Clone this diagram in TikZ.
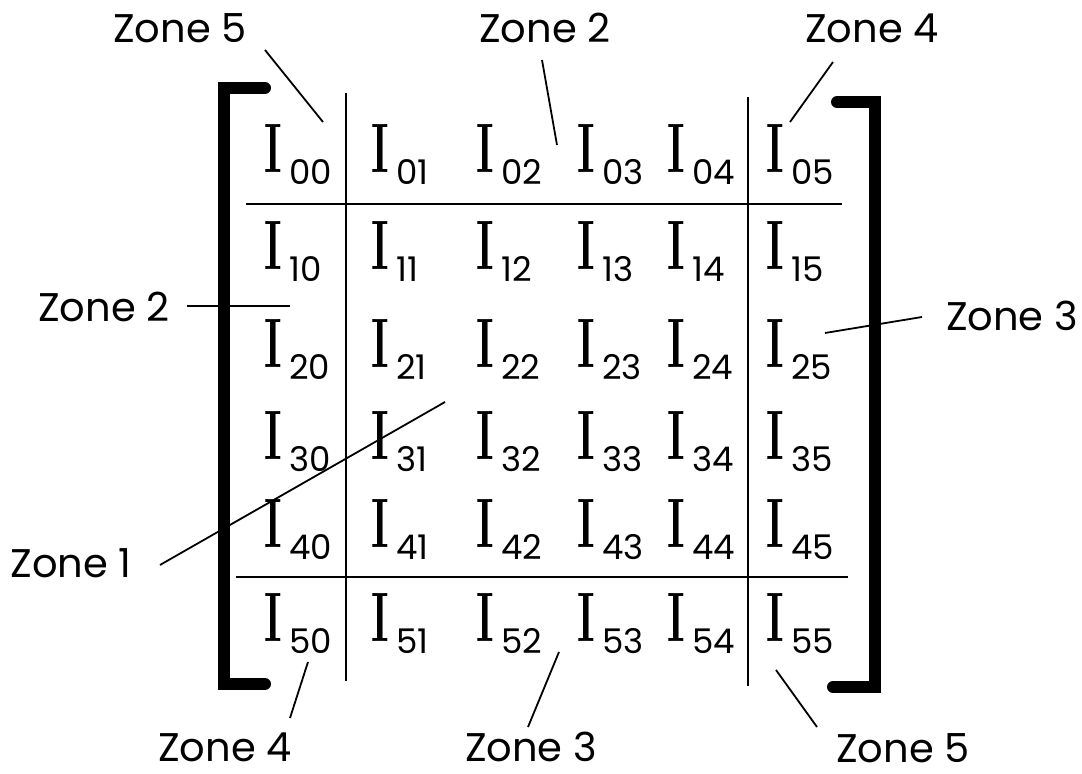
\documentclass[tikz,border=0pt]{standalone}
\usepackage{fontspec}
\newfontfamily\zonefont{Poppins}
\usetikzlibrary{positioning}
\tikzset{
  zone/.style={font=\zonefont\fontsize{20}{24}\selectfont, inner sep=0pt},
  ient/.style={font=\bfseries\fontsize{35}{40}\selectfont, inner sep=0pt},
  isub/.style={font=\zonefont\fontsize{17}{19}\selectfont, inner sep=0pt, anchor=west},
  bracket/.style={line width=6pt, line cap=round, line join=miter},
  rule/.style={line width=1.1pt},
  lead/.style={line width=0.9pt},
}

\begin{document}
\begin{tikzpicture}[x=0.5pt, y=-0.5pt]
    \useasboundingbox (0,0) rectangle (1082,774);

    % Matrix entries I_rc
    \foreach \r/\y in {0/148,1/245,2/343,3/435,4/523,5/617} {
      \foreach \c/\x in {0/273,1/380,2/485,3/586,4/676,5/775} {
        \node[ient] (e\r\c) at (\x,\y) {\scalebox{0.6}[1]{I}};
        \node[isub] (s\r\c) at (\x+16,\y+24) {\r\c};
      }
    }

    % Brackets
    \draw[bracket] (265,88) -- (224,88) -- (224,684) -- (265,684);
    \draw[bracket] (837,102) -- (875,102) -- (875,687) -- (833,687);

    % Zone rules
    \draw[rule] (346,93) -- (346,681);
    \draw[rule] (748,97) -- (748,686);
    \draw[rule] (246,204) -- (842,204);
    \draw[rule] (236,577) -- (848,577);

    % Zone labels
    \node[zone] (z5t) at (180,28) {Zone 5};
    \node[zone] (z2t) at (545,28) {Zone 2};
    \node[zone] (z4t) at (872,28) {Zone 4};
    \node[zone] (z2l) at (104,307) {Zone 2};
    \node[zone] (z3r) at (1012,316) {Zone 3};
    \node[zone] (z1l) at (71,563) {Zone 1};
    \node[zone] (z4b) at (225,747) {Zone 4};
    \node[zone] (z3b) at (531,747) {Zone 3};
    \node[zone] (z5b) at (903,748) {Zone 5};

    % Leader ends
    \coordinate (z5t-a) at (265,50);  \coordinate (z5t-b) at (323,122);
    \coordinate (z2t-a) at (542,60);  \coordinate (z2t-b) at (557,145);
    \coordinate (z4t-a) at (833,62);  \coordinate (z4t-b) at (790,122);
    \coordinate (z2l-a) at (187,306); \coordinate (z2l-b) at (290,306);
    \coordinate (z3r-a) at (922,317); \coordinate (z3r-b) at (825,333);
    \coordinate (z1l-a) at (160,565); \coordinate (z1l-b) at (445,402);
    \coordinate (z4b-a) at (290,718); \coordinate (z4b-b) at (308,662);
    \coordinate (z3b-a) at (528,727); \coordinate (z3b-b) at (559,652);
    \coordinate (z5b-a) at (817,727); \coordinate (z5b-b) at (776,670);

    % Leaders
    \foreach \z in {z5t,z2t,z4t,z2l,z3r,z1l,z4b,z3b,z5b}
      \draw[lead] (\z-a) -- (\z-b);
\end{tikzpicture}
\end{document}
